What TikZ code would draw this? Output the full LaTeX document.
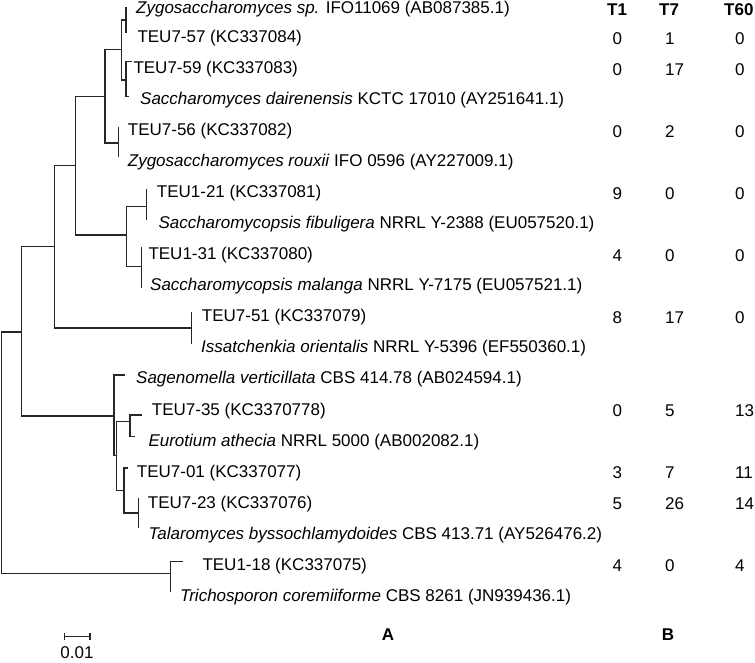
\documentclass[tikz,border=0pt]{standalone}
\usepackage{fontspec}
\setmainfont{Liberation Sans}
\begin{document}
\begin{tikzpicture}[x=1pt,y=-1pt,
  br/.style={draw=black!85,line width=1.3pt},
  lab/.style={anchor=west,inner sep=0pt,font=\fontsize{17}{19}\selectfont},
  val/.style={anchor=west,inner sep=0pt,font=\fontsize{17}{19}\selectfont},
  hdr/.style={anchor=west,inner sep=0pt,font=\fontsize{17}{19}\selectfont\bfseries}]
\useasboundingbox (0,0) rectangle (755,662);
% leaf end points
\coordinate (l1) at (126,7);
\coordinate (l2) at (126,33);
\coordinate (l3) at (131.7,61.7);
\coordinate (l4) at (129,96.7);
\coordinate (l5) at (118.3,127);
\coordinate (l6) at (118.3,157);
\coordinate (l7) at (146.7,189);
\coordinate (l8) at (146.7,220);
\coordinate (l9) at (141.7,246.7);
\coordinate (l10) at (141.7,288);
\coordinate (l11) at (191.7,311.7);
\coordinate (l12) at (191.7,344);
\coordinate (l13) at (125,375);
\coordinate (l14) at (141.7,415);
\coordinate (l15) at (135,436.7);
\coordinate (l16) at (128.3,468);
\coordinate (l17) at (138.3,498);
\coordinate (l18) at (138.3,528);
\coordinate (l19) at (183.3,561.7);
\coordinate (l20) at (170.7,591.7);
% internal nodes
\coordinate (nA) at (126,20);
\coordinate (nB) at (126,80);
\coordinate (nAB) at (121.7,49.3);
\coordinate (nC) at (118.3,143);
\coordinate (nABC) at (105,96.7);
\coordinate (nD) at (146.7,206.7);
\coordinate (nE) at (141.7,266.7);
\coordinate (nDE) at (126.7,235);
\coordinate (nAE) at (75.3,165.7);
\coordinate (nF) at (191.7,328);
\coordinate (nAF) at (54.3,246.7);
\coordinate (nI) at (130,421.7);
\coordinate (nK) at (138.3,513);
\coordinate (nJ) at (124,490.7);
\coordinate (nH) at (116.7,455.7);
\coordinate (nG) at (114,416);
\coordinate (nFG) at (21.7,332);
\coordinate (nL) at (170.7,573.3);
\coordinate (root) at (1.5,452);
% branches
\draw[br] (nA) |- (l1) (nA) |- (l2);
\draw[br] (nB) |- (l3) (nB) |- (l4);
\draw[br] (nAB) |- (nA) (nAB) |- (nB);
\draw[br] (nC) |- (l5) (nC) |- (l6);
\draw[br] (nABC) |- (nAB) (nABC) |- (nC);
\draw[br] (nD) |- (l7) (nD) |- (l8);
\draw[br] (nE) |- (l9) (nE) |- (l10);
\draw[br] (nDE) |- (nD) (nDE) |- (nE);
\draw[br] (nAE) |- (nABC) (nAE) |- (nDE);
\draw[br] (nF) |- (l11) (nF) |- (l12);
\draw[br] (nAF) |- (nAE) (nAF) |- (nF);
\draw[br] (nI) |- (l14) (nI) |- (l15);
\draw[br] (nK) |- (l17) (nK) |- (l18);
\draw[br] (nJ) |- (l16) (nJ) |- (nK);
\draw[br] (nH) |- (nI) (nH) |- (nJ);
\draw[br] (nG) |- (l13) (nG) |- (nH);
\draw[br] (nFG) |- (nAF) (nFG) |- (nG);
\draw[br] (nL) |- (l19) (nL) |- (l20);
\draw[br] (root) |- (nFG) (root) |- (nL);
% labels
\node[lab] (t1) at (136,9.5) {\textit{Zygosaccharomyces sp.} IFO11069 (AB087385.1)};
\node[lab] (t2) at (137.3,38.3) {TEU7-57 (KC337084)};
\node[lab] (t3) at (133.3,69.3) {TEU7-59 (KC337083)};
\node[lab] (t4) at (140,100.4) {\textit{Saccharomyces dairenensis} KCTC 17010 (AY251641.1)};
\node[lab] (t5) at (127.7,131.4) {TEU7-56 (KC337082)};
\node[lab] (t6) at (127.7,162.4) {\textit{Zygosaccharomyces rouxii} IFO 0596 (AY227009.1)};
\node[lab] (t7) at (156.7,193.4) {TEU1-21 (KC337081)};
\node[lab] (t8) at (158.3,224.4) {\textit{Saccharomycopsis fibuligera} NRRL Y-2388 (EU057520.1)};
\node[lab] (t9) at (148.3,255.5) {TEU1-31 (KC337080)};
\node[lab] (t10) at (150,286.5) {\textit{Saccharomycopsis malanga} NRRL Y-7175 (EU057521.1)};
\node[lab] (t11) at (201.7,317.5) {TEU7-51 (KC337079)};
\node[lab] (t12) at (201,348.5) {\textit{Issatchenkia orientalis} NRRL Y-5396 (EF550360.1)};
\node[lab] (t13) at (136,379.5) {\textit{Sagenomella verticillata} CBS 414.78 (AB024594.1)};
\node[lab] (t14) at (151.7,410.6) {TEU7-35 (KC3370778)};
\node[lab] (t15) at (148.3,441.6) {\textit{Eurotium athecia} NRRL 5000 (AB002082.1)};
\node[lab] (t16) at (136.7,472.6) {TEU7-01 (KC337077)};
\node[lab] (t17) at (147.7,503.6) {TEU7-23 (KC337076)};
\node[lab] (t18) at (148.3,534.6) {\textit{Talaromyces byssochlamydoides} CBS 413.71 (AY526476.2)};
\node[lab] (t19) at (202.3,565.7) {TEU1-18 (KC337075)};
\node[lab] (t20) at (180,596.7) {\textit{Trichosporon coremiiforme} CBS 8261 (JN939436.1)};
% headers
\node[hdr] (h1) at (607,10) {T1};
\node[hdr] (h7) at (659,10) {T7};
\node[hdr] (h60) at (724,10) {T60};
% values
\foreach \r/\y/\a/\b/\c in {2/38.3/0/1/0, 3/69.3/0/17/0, 5/131.4/0/2/0, 7/193.4/9/0/0, 9/255.5/4/0/0, 11/317.5/8/17/0, 14/410.6/0/5/13, 16/472.6/3/7/11, 17/503.6/5/26/14, 19/565.7/4/0/4}{
  \node[val] (a\r) at (612.5,\y) {\a};
  \node[val] (b\r) at (665,\y) {\b};
  \node[val] (c\r) at (735,\y) {\c};
}
% scale bar
\coordinate (s1) at (64.3,636.5);
\coordinate (s2) at (90,636.5);
\draw[br] (s1) -- (s2);
\draw[br] ([yshift=-3.5pt]s1) -- ([yshift=3.5pt]s1);
\draw[br] ([yshift=-3.5pt]s2) -- ([yshift=3.5pt]s2);
\node[lab,anchor=center] (sl) at (77,652.5) {0.01};
\node[hdr,anchor=center] (A) at (388,635) {A};
\node[hdr,anchor=center] (B) at (668,635) {B};
\end{tikzpicture}
\end{document}
